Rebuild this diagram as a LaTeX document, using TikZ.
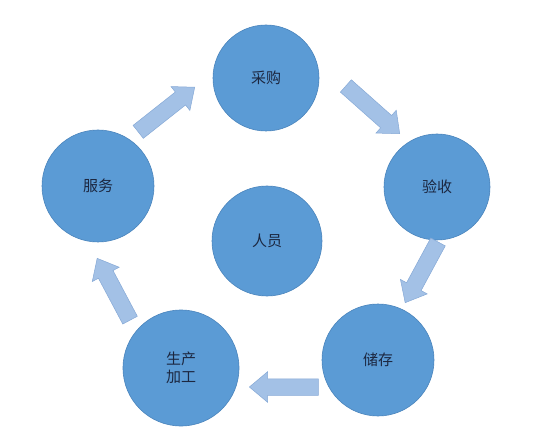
\documentclass[tikz,border=0pt]{standalone}
\usepackage{fontspec}
\newfontfamily\cjk{Noto Sans CJK SC}
\usetikzlibrary{shapes.arrows}
\definecolor{circfill}{HTML}{5B9BD5}
\definecolor{circline}{HTML}{4A84BC}
\definecolor{arrfill}{HTML}{A3C1E6}
\definecolor{arrline}{HTML}{86A9D6}
\definecolor{txt}{HTML}{1C2740}
\begin{document}
\begin{tikzpicture}[x=1pt,y=-1pt,
  stage/.style={circle,fill=circfill,draw=circline,line width=0.6pt,inner sep=0pt,
    font=\cjk\fontsize{15}{18}\selectfont,text=txt,align=center},
  blockarrow/.style={single arrow,fill=arrfill,draw=arrline,line width=0.5pt,
    minimum width=0pt,single arrow head extend=7pt,single arrow head indent=0pt,
    single arrow tip angle=80,
    inner xsep=0pt,inner ysep=0pt,text height=16pt,text depth=0pt,text width=0pt,
    minimum height=70pt,anchor=tip}]
\useasboundingbox (0,0) rectangle (543,430);
\node[stage,minimum size=106pt] (cg) at (266,78) {采购};
\node[stage,minimum size=106pt] (ys) at (437,187) {验收};
\node[stage,minimum size=112pt] (cc) at (378,360) {储存};
\node[stage,minimum size=116pt] (sc) at (181,368) {生产\\加工};
\node[stage,minimum size=112pt] (fw) at (98,186) {服务};
\node[stage,minimum size=110pt] (ry) at (267,241) {人员};
\node[blockarrow,rotate=38.3,minimum height=72pt] (a1) at (195,87) {};
\node[blockarrow,rotate=-41.6,minimum height=72pt] (a2) at (400,134) {};
\node[blockarrow,rotate=-118.4,minimum height=69pt] (a3) at (405,303) {};
\node[blockarrow,rotate=180,minimum height=69pt] (a4) at (249,387) {};
\node[blockarrow,rotate=118,minimum height=70pt] (a5) at (97,258) {};
\end{tikzpicture}
\end{document}
